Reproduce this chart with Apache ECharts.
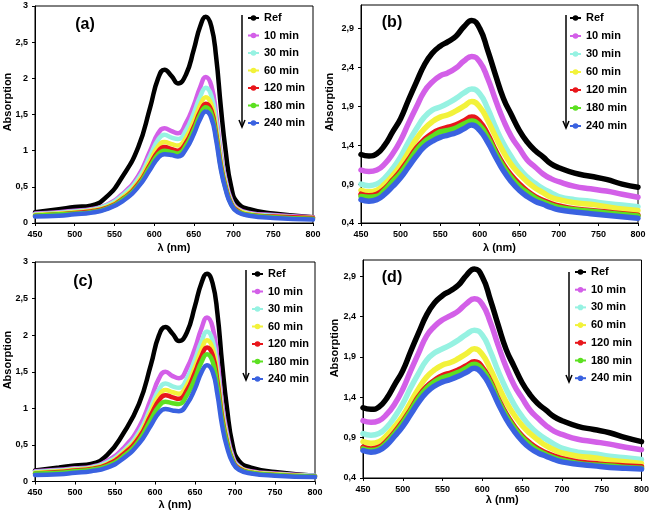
<!DOCTYPE html>
<html><head><meta charset="utf-8">
<script src="https://cdn.jsdelivr.net/npm/echarts@6/dist/echarts.min.js"></script>
<style>html,body{margin:0;padding:0;background:#fff}#c{width:652px;height:515px}</style>
</head><body><div id="c"></div>
<script>
// ---------- DATA ----------
const seriesNames = ['Ref','10 min','30 min','60 min','120 min','180 min','240 min'];
const seriesColors = ['#000000','#D35FE8','#96F2E2','#F2F23A','#E8161B','#5CE021','#3A62E0'];
const xTickValues = [450,500,550,600,650,700,750,800];
const yTicksAC = [0,0.5,1,1.5,2,2.5,3];
const yTicksBD = [0.4,0.9,1.4,1.9,2.4,2.9];
const panelLabels = ['(a)','(b)','(c)','(d)'];

// wavelengths (nm) for panels (a) and (c)
const wlAC = [450,480,500,520,540,560,580,595,605,613,622,630,640,650,658,665,672,678,684,690,697,705,720,750,800];
const a_ref = [0.15,0.19,0.22,0.24,0.36,0.64,1.05,1.6,2.0,2.12,2.03,1.93,2.05,2.4,2.72,2.85,2.72,2.3,1.6,1.0,0.5,0.28,0.19,0.13,0.08];
const a_10  = [0.13,0.15,0.17,0.19,0.25,0.4,0.65,1.0,1.24,1.31,1.27,1.24,1.38,1.63,1.88,2.02,1.9,1.5,0.95,0.6,0.32,0.2,0.14,0.11,0.08];
const a_30  = [0.12,0.14,0.16,0.18,0.24,0.38,0.61,0.93,1.15,1.22,1.18,1.16,1.28,1.52,1.75,1.87,1.76,1.4,0.9,0.56,0.3,0.19,0.13,0.1,0.07];
const a_60  = [0.11,0.13,0.15,0.17,0.22,0.35,0.57,0.86,1.06,1.12,1.09,1.07,1.18,1.41,1.63,1.74,1.64,1.3,0.84,0.52,0.28,0.18,0.12,0.09,0.07];
const a_120 = [0.1,0.12,0.14,0.16,0.21,0.33,0.54,0.81,0.99,1.05,1.02,1.0,1.11,1.33,1.54,1.65,1.56,1.24,0.8,0.5,0.27,0.17,0.11,0.09,0.07];
const a_180 = [0.1,0.12,0.13,0.15,0.2,0.32,0.52,0.78,0.95,1.0,0.98,0.96,1.07,1.29,1.5,1.6,1.51,1.2,0.77,0.48,0.26,0.16,0.11,0.08,0.06];
const a_240 = [0.09,0.1,0.12,0.14,0.19,0.3,0.5,0.74,0.9,0.95,0.94,0.92,1.02,1.23,1.44,1.54,1.45,1.15,0.74,0.46,0.25,0.15,0.1,0.07,0.05];

const c_ref = [0.15,0.19,0.22,0.24,0.36,0.65,1.06,1.6,2.0,2.11,2.02,1.92,2.04,2.4,2.71,2.84,2.71,2.3,1.6,1.0,0.5,0.28,0.19,0.13,0.08];
const c_10  = [0.14,0.16,0.18,0.2,0.28,0.45,0.74,1.13,1.41,1.5,1.44,1.41,1.55,1.82,2.09,2.24,2.11,1.67,1.05,0.66,0.35,0.21,0.14,0.11,0.08];
const c_30  = [0.13,0.15,0.17,0.19,0.26,0.41,0.67,1.02,1.26,1.34,1.3,1.28,1.41,1.67,1.91,2.05,1.93,1.53,0.97,0.61,0.32,0.2,0.13,0.1,0.08];
const c_60  = [0.12,0.14,0.16,0.18,0.24,0.39,0.63,0.96,1.18,1.25,1.22,1.2,1.32,1.57,1.8,1.93,1.82,1.44,0.91,0.57,0.3,0.19,0.13,0.1,0.07];
const c_120 = [0.11,0.13,0.15,0.17,0.23,0.37,0.6,0.91,1.11,1.18,1.15,1.13,1.25,1.49,1.71,1.83,1.73,1.37,0.87,0.54,0.29,0.18,0.12,0.09,0.07];
const c_180 = [0.11,0.12,0.14,0.16,0.21,0.34,0.56,0.85,1.03,1.09,1.07,1.06,1.18,1.41,1.63,1.74,1.64,1.3,0.83,0.52,0.28,0.17,0.12,0.09,0.07];
const c_240 = [0.09,0.1,0.12,0.14,0.19,0.31,0.52,0.77,0.94,0.99,0.97,0.96,1.06,1.27,1.49,1.59,1.5,1.19,0.76,0.47,0.26,0.16,0.11,0.08,0.06];

// wavelengths (nm) for panels (b) and (d)
const wlBD = [450,460,470,480,490,500,510,520,530,540,550,560,570,580,590,600,610,620,630,640,650,660,670,680,690,700,720,740,760,780,800];
const b_ref = [1.28,1.26,1.29,1.4,1.57,1.74,1.98,2.21,2.43,2.58,2.67,2.73,2.8,2.92,3.0,2.9,2.62,2.3,2.0,1.79,1.59,1.44,1.33,1.25,1.16,1.11,1.04,1.0,0.96,0.9,0.86];
const b_10  = [1.08,1.06,1.08,1.16,1.29,1.46,1.68,1.89,2.09,2.21,2.29,2.33,2.39,2.48,2.54,2.47,2.26,1.98,1.72,1.51,1.36,1.21,1.12,1.03,0.97,0.93,0.87,0.84,0.81,0.77,0.73];
const b_30  = [0.9,0.88,0.9,0.98,1.1,1.25,1.44,1.61,1.76,1.85,1.89,1.94,2.0,2.07,2.12,2.06,1.87,1.63,1.42,1.25,1.1,0.99,0.91,0.84,0.79,0.74,0.7,0.68,0.65,0.63,0.61];
const b_60  = [0.82,0.8,0.82,0.9,1.01,1.14,1.31,1.48,1.61,1.7,1.76,1.79,1.84,1.9,1.96,1.89,1.72,1.51,1.31,1.15,1.03,0.93,0.85,0.79,0.73,0.7,0.66,0.64,0.61,0.58,0.56];
const b_120 = [0.77,0.75,0.77,0.84,0.95,1.07,1.21,1.36,1.47,1.55,1.6,1.63,1.66,1.71,1.76,1.7,1.54,1.33,1.15,1.01,0.9,0.81,0.74,0.69,0.65,0.62,0.58,0.56,0.54,0.52,0.5];
const b_180 = [0.74,0.73,0.74,0.82,0.93,1.04,1.18,1.33,1.44,1.51,1.57,1.59,1.62,1.67,1.71,1.65,1.5,1.3,1.12,0.98,0.87,0.79,0.72,0.67,0.63,0.6,0.57,0.55,0.53,0.51,0.49];
const b_240 = [0.7,0.68,0.7,0.77,0.87,0.98,1.12,1.26,1.38,1.45,1.5,1.53,1.56,1.61,1.66,1.59,1.44,1.25,1.07,0.93,0.82,0.74,0.68,0.64,0.6,0.57,0.54,0.52,0.5,0.48,0.46];

const d_ref = [1.27,1.25,1.28,1.39,1.56,1.73,1.97,2.2,2.42,2.57,2.66,2.72,2.79,2.91,2.99,2.89,2.61,2.29,1.99,1.78,1.58,1.43,1.32,1.24,1.16,1.11,1.04,1.0,0.96,0.9,0.85];
const d_10  = [1.11,1.09,1.11,1.19,1.32,1.5,1.73,1.95,2.16,2.28,2.36,2.41,2.47,2.56,2.62,2.55,2.33,2.04,1.77,1.55,1.39,1.24,1.14,1.05,0.98,0.94,0.88,0.85,0.82,0.78,0.75];
const d_30  = [0.95,0.93,0.95,1.03,1.16,1.32,1.52,1.7,1.86,1.95,2.0,2.05,2.11,2.18,2.23,2.17,1.97,1.72,1.5,1.31,1.16,1.04,0.95,0.88,0.82,0.77,0.72,0.7,0.67,0.65,0.63];
const d_60  = [0.85,0.83,0.85,0.93,1.04,1.17,1.34,1.51,1.65,1.74,1.8,1.83,1.88,1.94,2.0,1.93,1.75,1.54,1.34,1.18,1.05,0.95,0.87,0.8,0.75,0.71,0.67,0.65,0.62,0.6,0.58];
const d_120 = [0.78,0.76,0.78,0.86,0.97,1.1,1.25,1.41,1.53,1.61,1.67,1.7,1.74,1.79,1.84,1.77,1.6,1.38,1.19,1.04,0.92,0.83,0.76,0.71,0.67,0.64,0.6,0.58,0.56,0.55,0.54];
const d_180 = [0.76,0.74,0.76,0.84,0.95,1.08,1.23,1.39,1.51,1.59,1.64,1.67,1.71,1.76,1.81,1.74,1.58,1.36,1.17,1.02,0.9,0.81,0.74,0.69,0.65,0.62,0.58,0.56,0.55,0.53,0.52];
const d_240 = [0.74,0.72,0.74,0.81,0.92,1.04,1.19,1.34,1.46,1.54,1.59,1.62,1.66,1.71,1.76,1.69,1.53,1.32,1.13,0.98,0.86,0.77,0.71,0.67,0.63,0.6,0.57,0.55,0.53,0.52,0.51];

// ---------- CHART ----------
const FONT = '"Liberation Sans", Arial, sans-serif';
const panels = [
  {wl: wlAC, sets: [a_ref,a_10,a_30,a_60,a_120,a_180,a_240], grid:{left:35, top:6, width:278, height:217}, yMin:0, yMax:3, yTicks:yTicksAC, lw:4.5, xGap:19,
   legend:{left:247, top:12, itemGap:5.5}, label:[85,25], yTitle:[8,102], arrow:[242,15,127]},
  {wl: wlBD, sets: [b_ref,b_10,b_30,b_60,b_120,b_180,b_240], grid:{left:361, top:5, width:277, height:218}, yMin:0.4, yMax:3.2, yTicks:yTicksBD, lw:5.5, xGap:19,
   legend:{left:569, top:12, itemGap:6}, label:[392,23], yTitle:[330,102], arrow:[566,15,128]},
  {wl: wlAC, sets: [c_ref,c_10,c_30,c_60,c_120,c_180,c_240], grid:{left:35, top:262, width:280, height:219.5}, yMin:0, yMax:3, yTicks:yTicksAC, lw:4.5, xGap:18,
   legend:{left:251, top:268, itemGap:5.5}, label:[83,282], yTitle:[8,360], arrow:[246,270,380]},
  {wl: wlBD, sets: [d_ref,d_10,d_30,d_60,d_120,d_180,d_240], grid:{left:363, top:260, width:279, height:218}, yMin:0.4, yMax:3.1, yTicks:yTicksBD, lw:5.5, xGap:16.5,
   legend:{left:574, top:266, itemGap:5.7}, label:[392,278], yTitle:[335,348], arrow:[569,272,382]}
];

const fmt = v => String(+v.toFixed(2)).replace('.', ',');
const grids = [], xAxes = [], yAxes = [], series = [], legends = [], graphics = [];
panels.forEach((p, pi) => {
  grids.push(Object.assign({show:true, borderColor:'#000', borderWidth:1, backgroundColor:'transparent', containLabel:false}, p.grid));
  xAxes.push({
    type:'value', gridIndex:pi, min:450, max:800, interval:50,
    name:'λ (nm)', nameLocation:'middle', nameGap:p.xGap,
    nameTextStyle:{fontFamily:FONT, fontWeight:'bold', fontSize:11, color:'#000'},
    axisLine:{show:true, lineStyle:{color:'#000', width:1}},
    axisTick:{show:true, length:3, inside:false, lineStyle:{color:'#000'}, customValues:xTickValues},
    axisLabel:{fontFamily:FONT, fontWeight:'bold', fontSize:9, color:'#000', margin:7, customValues:xTickValues},
    splitLine:{show:false}
  });
  yAxes.push({
    type:'value', gridIndex:pi, min:p.yMin, max:p.yMax,
    axisLine:{show:true, lineStyle:{color:'#000', width:1}},
    axisTick:{show:true, length:3, inside:false, lineStyle:{color:'#000'}, customValues:p.yTicks},
    axisLabel:{fontFamily:FONT, fontWeight:'bold', fontSize:9, color:'#000', margin:7, customValues:p.yTicks, formatter:fmt},
    splitLine:{show:false}
  });
  p.sets.forEach((vals, si) => {
    series.push({
      type:'line', name:seriesNames[si], xAxisIndex:pi, yAxisIndex:pi,
      data: p.wl.map((x, k) => [x, vals[k]]),
      smooth:0.5, symbol:'circle', showSymbol:false, symbolSize:6,
      lineStyle:{width:p.lw, color:seriesColors[si], join:'round', cap:'round'}, itemStyle:{color:seriesColors[si]},
      emphasis:{disabled:true}, animation:false, z:2+si
    });
  });
  legends.push({
    orient:'vertical', left:p.legend.left, top:p.legend.top, itemGap:p.legend.itemGap,
    itemWidth:11, itemHeight:7, padding:0, selectedMode:false, data:seriesNames,
    lineStyle:{width:2, cap:'butt'}, textStyle:{fontFamily:FONT, fontWeight:'bold', fontSize:11, color:'#000', lineHeight:12}
  });
  graphics.push({type:'text', x:p.label[0], y:p.label[1], style:{text:panelLabels[pi], fontFamily:FONT, fontWeight:'bold', fontSize:16, fill:'#000', textAlign:'center', textVerticalAlign:'middle'}});
  graphics.push({type:'text', x:p.yTitle[0], y:p.yTitle[1], rotation:Math.PI/2, style:{text:'Absorption', fontFamily:FONT, fontWeight:'bold', fontSize:11, fill:'#000', textAlign:'center', textVerticalAlign:'middle'}});
  const [ax, ay1, ay2] = p.arrow;
  graphics.push({type:'line', shape:{x1:ax, y1:ay1, x2:ax, y2:ay2}, style:{stroke:'#000', lineWidth:1.5}});
  graphics.push({type:'polyline', shape:{points:[[ax-3, ay2-7],[ax, ay2],[ax+3, ay2-7]]}, style:{stroke:'#000', fill:null, lineWidth:1.5}});
});

const chart = echarts.init(document.getElementById('c'), null, {renderer:'canvas'});
chart.setOption({
  animation:false, backgroundColor:'#fff',
  grid:grids, xAxis:xAxes, yAxis:yAxes, series:series, legend:legends, graphic:graphics
});
</script></body></html>
